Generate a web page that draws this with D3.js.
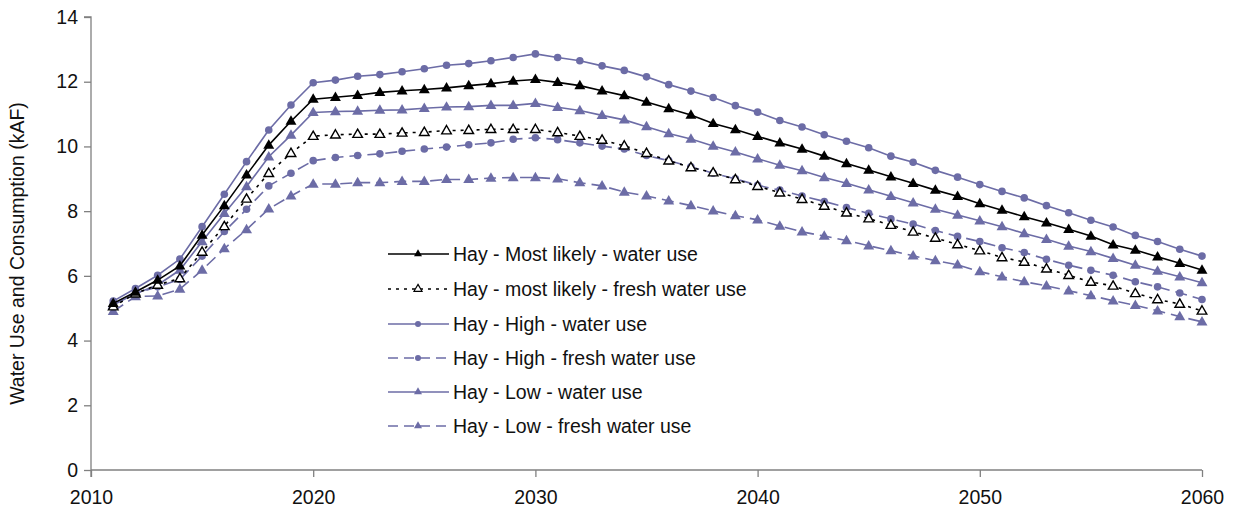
<!DOCTYPE html>
<html><head><meta charset="utf-8">
<script src="https://cdn.jsdelivr.net/npm/d3@7"></script>
<style>body{margin:0;background:#fff}svg{display:block;font-family:"Liberation Sans",Arial,sans-serif}</style>
</head><body><svg id="c" width="1237" height="517"></svg>
<script>
const years = d3.range(2011, 2061);
const mlWater = [5.15,5.5,5.87,6.31,7.26,8.17,9.12,10.04,10.78,11.46,11.52,11.58,11.67,11.72,11.76,11.81,11.88,11.94,12.02,12.07,11.98,11.88,11.72,11.57,11.37,11.17,10.97,10.71,10.52,10.31,10.11,9.92,9.7,9.47,9.27,9.06,8.86,8.65,8.46,8.23,8.03,7.83,7.64,7.44,7.23,6.96,6.8,6.59,6.39,6.18];
const mlFresh = [5.05,5.45,5.72,5.92,6.74,7.53,8.38,9.17,9.79,10.32,10.36,10.38,10.38,10.42,10.44,10.49,10.5,10.53,10.53,10.53,10.43,10.32,10.2,10.02,9.79,9.56,9.35,9.19,8.98,8.77,8.57,8.37,8.16,7.95,7.77,7.57,7.36,7.17,6.97,6.78,6.57,6.43,6.22,6.02,5.81,5.69,5.46,5.27,5.13,4.92];
const highWater = [5.22,5.61,6.02,6.52,7.52,8.52,9.53,10.51,11.28,11.97,12.05,12.17,12.22,12.31,12.4,12.51,12.56,12.65,12.75,12.86,12.75,12.65,12.49,12.35,12.15,11.91,11.71,11.51,11.26,11.06,10.8,10.6,10.36,10.16,9.96,9.7,9.51,9.26,9.05,8.82,8.61,8.41,8.17,7.95,7.72,7.51,7.25,7.06,6.82,6.61];
const highFresh = [5.12,5.45,5.66,5.89,6.61,7.37,8.06,8.78,9.17,9.56,9.66,9.72,9.77,9.85,9.92,9.98,10.05,10.11,10.22,10.27,10.21,10.11,10.01,9.92,9.72,9.56,9.37,9.17,9.0,8.8,8.65,8.47,8.3,8.11,7.93,7.76,7.6,7.4,7.22,7.06,6.87,6.72,6.51,6.33,6.17,6.02,5.82,5.66,5.47,5.27];
const lowWater = [5.1,5.45,5.72,6.18,7.06,7.93,8.76,9.68,10.35,11.05,11.08,11.09,11.12,11.13,11.18,11.22,11.23,11.27,11.27,11.33,11.21,11.11,10.96,10.82,10.61,10.4,10.23,10.01,9.83,9.62,9.42,9.25,9.04,8.86,8.66,8.46,8.26,8.06,7.88,7.7,7.52,7.31,7.13,6.92,6.75,6.54,6.33,6.15,5.97,5.79];
const lowFresh = [4.9,5.36,5.38,5.59,6.18,6.84,7.43,8.07,8.47,8.84,8.84,8.88,8.88,8.92,8.92,8.98,8.98,9.02,9.04,9.04,9.0,8.88,8.78,8.59,8.47,8.32,8.17,8.01,7.86,7.73,7.54,7.36,7.23,7.09,6.93,6.78,6.62,6.47,6.34,6.13,5.97,5.82,5.69,5.54,5.39,5.23,5.09,4.92,4.74,4.58];
const seriesNames = ["Hay - Most likely - water use","Hay - most likely - fresh water use","Hay - High - water use","Hay - High - fresh water use","Hay - Low - water use","Hay - Low - fresh water use"];
const xTicks = [2010,2020,2030,2040,2050,2060];
const yTicks = [0,2,4,6,8,10,12,14];
const yLabel = "Water Use and Consumption (kAF)";

const PURPLE = "#6c6ca6";
const FS = "19.5px";
const series = [
  {name: seriesNames[0], values: mlWater, color: "#000", dash: null, marker: "tri", fill: "#000"},
  {name: seriesNames[1], values: mlFresh, color: "#000", dash: "3,5", marker: "tri", fill: "#fff"},
  {name: seriesNames[2], values: highWater, color: PURPLE, dash: null, marker: "circ", fill: PURPLE},
  {name: seriesNames[3], values: highFresh, color: PURPLE, dash: "12,6", marker: "circ", fill: PURPLE},
  {name: seriesNames[4], values: lowWater, color: PURPLE, dash: null, marker: "tri", fill: PURPLE},
  {name: seriesNames[5], values: lowFresh, color: PURPLE, dash: "12,6", marker: "tri", fill: PURPLE}
];

const svg = d3.select("#c");
const L = 91, R = 1202, T = 17, B = 470;
const x = d3.scaleLinear().domain([2010, 2060]).range([L, R]);
const y = d3.scaleLinear().domain([0, 14]).range([B, T]);
const AX = "#808080";

const yAxis = svg.append("g").attr("transform", `translate(${L},0)`)
  .call(d3.axisLeft(y).tickValues(yTicks).tickSize(7).tickPadding(6));
const xAxis = svg.append("g").attr("transform", `translate(0,${B})`)
  .call(d3.axisBottom(x).tickValues(xTicks).tickFormat(d3.format("d")).tickSize(7).tickPadding(13));
[yAxis, xAxis].forEach(g => {
  g.select(".domain").attr("stroke", AX).attr("stroke-width", 1.3);
  g.selectAll(".tick line").attr("stroke", AX).attr("stroke-width", 1.3);
  g.selectAll(".tick text").attr("fill", "#111").style("font-size", FS).style("font-family", "Liberation Sans, Arial, sans-serif");
});
yAxis.select(".domain").attr("d", `M0,${B+7}V${T}H-7`);
xAxis.select(".domain").attr("d", `M${L},0H${R}`);

svg.append("text").attr("transform", `translate(24,${(T+B)/2 + 10}) rotate(-90)`)
  .attr("text-anchor", "middle").style("font-size", FS).attr("fill", "#111").text(yLabel);

const triPath = d3.symbol().type(d3.symbolTriangle).size(52);
const triPathSmall = d3.symbol().type(d3.symbolTriangle).size(40);
function drawMarker(g, s, cx, cy) {
  if (s.marker === "circ") {
    g.append("circle").attr("cx", cx).attr("cy", cy).attr("r", 3.8).attr("fill", s.fill).attr("stroke", "none");
  } else if (s.fill === "#fff") {
    g.append("path").attr("d", triPathSmall()).attr("transform", `translate(${cx},${cy+0.5})`)
      .attr("fill", "#fff").attr("stroke", "#000").attr("stroke-width", 1.4);
  } else {
    g.append("path").attr("d", triPath()).attr("transform", `translate(${cx},${cy+0.5})`)
      .attr("fill", s.fill).attr("stroke", "none");
  }
}

const line = d3.line().x((d, i) => x(years[i])).y(d => y(d));
const order = [5,3,4,2,1,0];
order.forEach(k => {
  const s = series[k];
  const g = svg.append("g");
  g.append("path").attr("d", line(s.values)).attr("fill", "none").attr("stroke", s.color)
    .attr("stroke-width", 1.6).attr("stroke-dasharray", s.dash);
  s.values.forEach((v, i) => drawMarker(g, s, x(years[i]), y(v)));
});

const legY = [254, 289, 324, 358, 392, 426];
series.forEach((s, i) => {
  const g = svg.append("g");
  const yy = legY[i];
  g.append("line").attr("x1", 388).attr("x2", 449).attr("y1", yy).attr("y2", yy)
    .attr("stroke", s.color).attr("stroke-width", 1.6).attr("stroke-dasharray", s.dash ? (s.color === "#000" ? "3,5" : "10,6") : null);
  if (s.marker === "circ") {
    g.append("circle").attr("cx", 418).attr("cy", yy).attr("r", 3).attr("fill", s.fill);
  } else {
    g.append("path").attr("d", d3.symbol().type(d3.symbolTriangle).size(28)()).attr("transform", `translate(418,${yy})`)
      .attr("fill", s.fill).attr("stroke", s.fill === "#fff" ? "#000" : "none").attr("stroke-width", 1.2);
  }
  g.append("text").attr("x", 453).attr("y", yy).attr("dy", "0.35em").style("font-size", FS).attr("fill", "#111").text(s.name);
});
</script></body></html>
